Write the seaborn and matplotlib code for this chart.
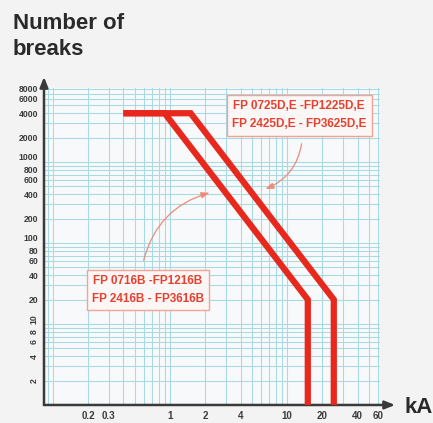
import numpy as np
import pandas as pd
import seaborn as sns
import matplotlib.pyplot as plt
from matplotlib.ticker import FixedLocator, NullFormatter

# curve corner points (kA, number of breaks)
breaks = [4000, 4000, 20, 1]
fp16b_ka = [0.4, 0.9, 15, 15]
fp25de_ka = [0.4, 1.5, 25, 25]

x_ticks = [0.2, 0.3, 1, 2, 4, 10, 20, 40, 60]
y_ticks = [2, 4, 6, 8, 10, 20, 40, 60, 80, 100, 200, 400, 600, 800,
           1000, 2000, 4000, 6000, 8000]

label_16b = "FP 0716B -FP1216B\nFP 2416B - FP3616B"
label_25de = "FP 0725D,E -FP1225D,E\nFP 2425D,E - FP3625D,E"

df = pd.DataFrame({
    "kA": fp16b_ka + fp25de_ka,
    "breaks": breaks + breaks,
    "series": ["16B"] * len(breaks) + ["25DE"] * len(breaks),
})

red = "#e8281c"
grid_c = "#a8dae5"
ink = "#3a3a3a"

sns.set_theme(style="white")
plt.rcParams["font.family"] = ["Liberation Sans", "DejaVu Sans"]

fig = plt.figure(figsize=(4.33, 4.23), dpi=100, facecolor="#f3f3f3")
ax = fig.add_axes([0.1016, 0.0426, 0.776, 0.7494])
ax.set_facecolor("#f7f9fa")
ax.set_xscale("log")
ax.set_yscale("log")

sns.lineplot(data=df, x="kA", y="breaks", units="series", estimator=None,
             sort=False, color=red, lw=4.5, solid_joinstyle="miter",
             solid_capstyle="butt", ax=ax, zorder=4)

ax.set_xlim(0.084, 62)
ax.set_ylim(1, 8200)
ax.set_xlabel("")
ax.set_ylabel("")

# log paper grid
grid_x = [m * 10.0 ** e for e in range(-2, 2) for m in range(1, 10)]
grid_x = [g for g in grid_x if 0.085 < g < 61]
grid_y = [m * 10.0 ** e for e in range(0, 4) for m in range(1, 10)]
grid_y = [g for g in grid_y if 1 < g <= 8000]
ax.xaxis.set_minor_locator(FixedLocator(grid_x))
ax.yaxis.set_minor_locator(FixedLocator(grid_y))
ax.xaxis.set_minor_formatter(NullFormatter())
ax.yaxis.set_minor_formatter(NullFormatter())
ax.xaxis.remove_overlapping_locs = False
ax.yaxis.remove_overlapping_locs = False
ax.grid(which="minor", color=grid_c, lw=0.75)
ax.grid(which="major", visible=False)
ax.set_axisbelow(True)

ax.set_xticks(x_ticks)
ax.set_xticklabels([f"{t:g}" for t in x_ticks], fontsize=7, fontweight="bold", color=ink)
ax.set_yticks(y_ticks)
ax.set_yticklabels([str(t) for t in y_ticks], fontsize=6.2, fontweight="bold", color=ink)
for t, lab in zip(y_ticks, ax.get_yticklabels()):
    if t <= 10:
        lab.set_rotation(90)
        lab.set_va("center")
    if t in (10, 100, 1000):
        # the reference crams these against the next label, nudge them up
        lab.set_va("bottom")
ax.tick_params(which="both", length=0, pad=4)

for s in ax.spines.values():
    s.set_visible(False)

axis_arrow = dict(arrowstyle="-|>,head_width=0.2,head_length=0.5", color=ink,
                  lw=1.8, shrinkA=0, shrinkB=0)
ax.annotate("", xy=(0, 1.035), xytext=(0, 0), xycoords="axes fraction",
            arrowprops=axis_arrow, annotation_clip=False)
ax.annotate("", xy=(1.045, 0), xytext=(0, 0), xycoords="axes fraction",
            arrowprops=axis_arrow, annotation_clip=False)

box = dict(boxstyle="square,pad=0.45", fc="#fbf7f6", ec="#f2a394", lw=1.0)
ax.text(12.66, 3800, label_25de, ha="center", va="center", color="#e8402e",
        fontsize=8.5, fontweight="bold", linespacing=1.7, bbox=box, zorder=5)
ax.text(0.649, 26.3, label_16b, ha="center", va="center", color="#e8402e",
        fontsize=8.5, fontweight="bold", linespacing=1.7, bbox=box, zorder=5)

pointer = dict(arrowstyle="-|>,head_width=0.15,head_length=0.4", color="#f08a78",
               lw=0.9, connectionstyle="arc3,rad=-0.3")
ax.annotate("", xy=(6.2, 451), xytext=(13.4, 1816), arrowprops=pointer, zorder=5)
ax.annotate("", xy=(2.29, 425), xytext=(0.588, 56.6), arrowprops=pointer, zorder=5)

fig.text(13 / 433, 1 - 13 / 423, "Number of\nbreaks", fontsize=16, fontweight="bold",
         va="top", ha="left", color="#2a2a2a", linespacing=1.3)
fig.text(404 / 433, 1 - 407 / 423, "kA", fontsize=16, fontweight="bold",
         va="center", ha="left", color="#2a2a2a")

fig.savefig("out.png", dpi=100, facecolor=fig.get_facecolor())
